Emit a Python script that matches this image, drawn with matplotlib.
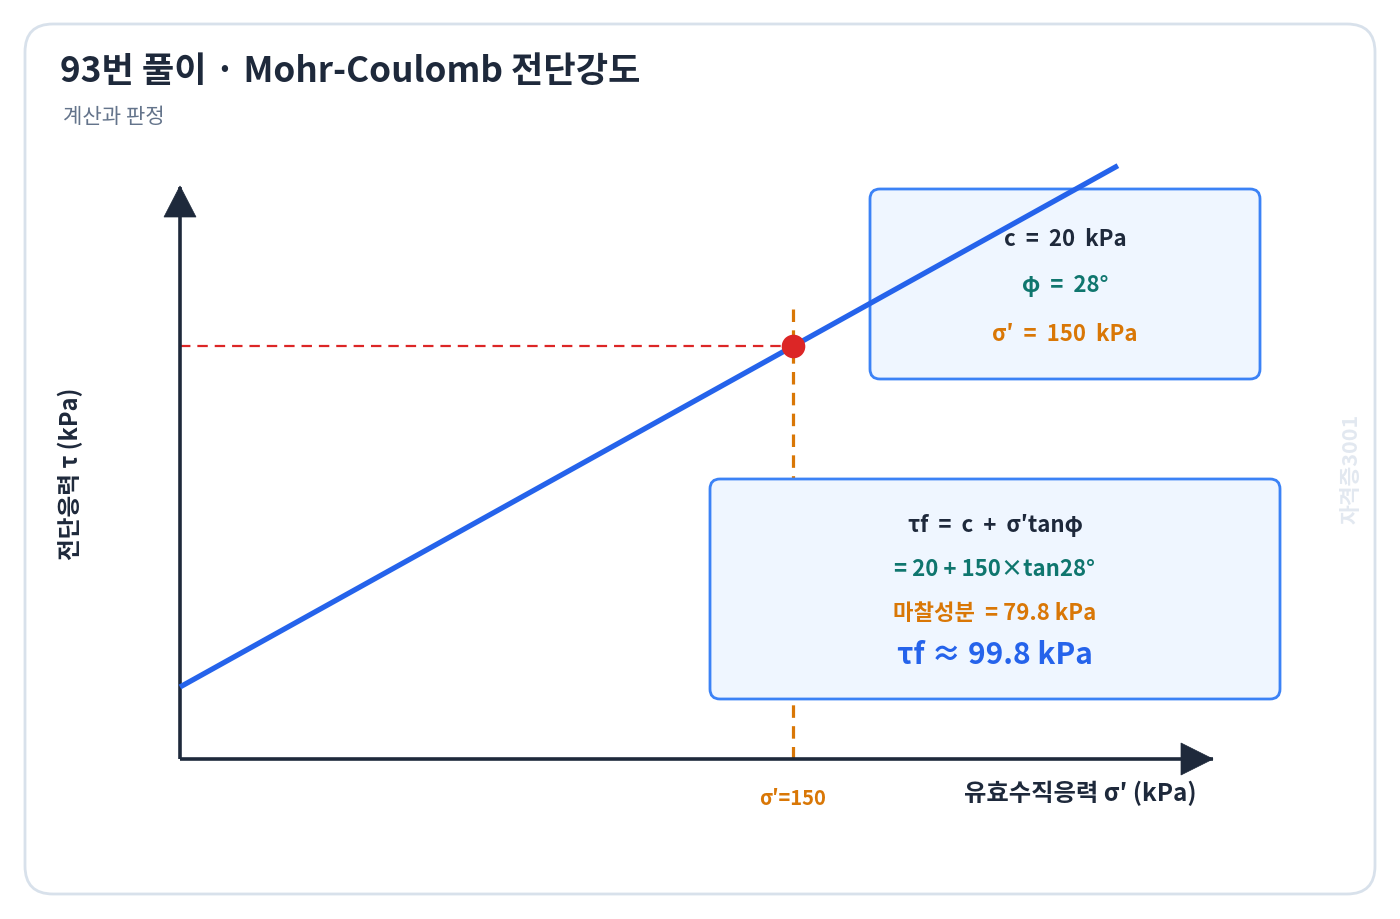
import numpy as np
import matplotlib
matplotlib.use("Agg")
import matplotlib.pyplot as plt
from matplotlib.patches import FancyBboxPatch, Polygon

plt.rcParams['font.family'] = ['Noto Sans CJK KR', 'DejaVu Sans']
plt.rcParams['lines.scale_dashes'] = False

# ---- data ----
c_kpa = 20.0
phi_deg = 28
sigma_point = 150.0
friction_part = 79.8
tau_f = 99.8
sigma_line = [0.0, 229.5]
tau_line = [20.0, 142.0]

title = "93번 풀이 · Mohr-Coulomb 전단강도"
subtitle = "계산과 판정"
xlabel = "유효수직응력 σ′ (kPa)"
ylabel = "전단응력 τ (kPa)"
params_lines = ["c  =  20  kPa", "φ  =  28°", "σ′  =  150  kPa"]
calc_lines = ["τf  =  c  +  σ′tanφ", "= 20 + 150×tan28°", "마찰성분  = 79.8 kPa", "τf ≈ 99.8 kPa"]
sigma_tick = "σ′=150"
watermark = "자격증3001"

DARK = "#1e293b"
TEAL = "#0f766e"
ORANGE = "#d97706"
BLUE = "#2563eb"
RED = "#dc2626"

W, H = 1400, 920
fig = plt.figure(figsize=(14, 9.2), dpi=100)
fig.patch.set_facecolor("white")

# overlay axes in pixel coordinates (y downwards)
bg = fig.add_axes([0, 0, 1, 1], zorder=0)
bg.set_xlim(0, W)
bg.set_ylim(H, 0)
bg.axis("off")

card = FancyBboxPatch((25, 25), 1350, 870, boxstyle="round,pad=0,rounding_size=28",
                      facecolor="white", edgecolor="#d8e1eb", linewidth=2.0)
bg.add_patch(card)

bg.text(60, 82, title, fontsize=25.3, fontweight="bold", color=DARK, va="baseline", ha="left")
bg.text(63, 123, subtitle, fontsize=15.2, color="#64748b", va="baseline", ha="left")
bg.text(1351, 469, watermark, fontsize=15.5, color="#e2e8f0", rotation=90, ha="center", va="center",
        fontweight="bold")

# data axes: origin at pixel (180, 760), arrow tips at x=1213, y=188
x0, y0, x1, y1 = 180, 760, 1213, 188
ax = fig.add_axes([x0 / W, (H - y0) / H, (x1 - x0) / W, (y0 - y1) / H], zorder=1)
px_per_sigma = 613 / 150.0
px_per_tau = 341 / 79.8
ax.set_xlim(0, (x1 - x0) / px_per_sigma)
ax.set_ylim(20 - (y0 - 688) / px_per_tau, 20 + (688 - y1) / px_per_tau)
ax.patch.set_alpha(0)
ax.axis("off")

pix = bg.transData

# axes lines and arrowheads
ax.plot([0, 0], [0, 1], transform=ax.transAxes, color=DARK, lw=2.6, clip_on=False,
        solid_capstyle="butt", zorder=2)
ax.plot([0, 1], [0, 0], transform=ax.transAxes, color=DARK, lw=2.6, clip_on=False,
        solid_capstyle="butt", zorder=2)
ax.add_patch(Polygon([(164, 218), (196, 218), (180, 187)], closed=True, transform=pix,
                     facecolor=DARK, edgecolor=DARK, lw=0.5, clip_on=False, zorder=2))
ax.add_patch(Polygon([(1181, 744), (1181, 776), (1213, 760)], closed=True, transform=pix,
                     facecolor=DARK, edgecolor=DARK, lw=0.5, clip_on=False, zorder=2))

# dashed guides
ymin = ax.get_ylim()[0]
vl, = ax.plot([sigma_point, sigma_point], [ymin, tau_f + 8.7], color=ORANGE, lw=2.3,
              clip_on=False, zorder=1)
vl.set_dashes((9, 6))
hl, = ax.plot([0, sigma_point], [tau_f, tau_f], color=RED, lw=1.6, clip_on=False, zorder=1)
hl.set_dashes((7.5, 5))

# boxes
box_top = FancyBboxPatch((870, 190), 390, 190, boxstyle="round,pad=0,rounding_size=10",
                         facecolor="#eff6ff", edgecolor="#3b82f6", lw=2.0, transform=pix,
                         clip_on=False, zorder=2)
box_bot = FancyBboxPatch((710, 480), 570, 220, boxstyle="round,pad=0,rounding_size=10",
                         facecolor="#eff6ff", edgecolor="#3b82f6", lw=2.0, transform=pix,
                         clip_on=False, zorder=2)
ax.add_patch(box_top)
ax.add_patch(box_bot)

# failure envelope
ax.plot(sigma_line, tau_line, color=BLUE, lw=3.8, clip_on=False, zorder=3,
        solid_capstyle="butt")
ax.plot([sigma_point], [tau_f], "o", color=RED, markersize=17, clip_on=False, zorder=4,
        markeredgewidth=0)

# box texts
tkw = dict(transform=pix, ha="center", va="baseline", fontweight="bold", zorder=5, clip_on=False)
ax.text(1065, 246, params_lines[0], fontsize=16, color=DARK, **tkw)
ax.text(1065, 292, params_lines[1], fontsize=16, color=TEAL, **tkw)
ax.text(1065, 341, params_lines[2], fontsize=16, color=ORANGE, **tkw)

ax.text(995, 532, calc_lines[0], fontsize=16, color=DARK, **tkw)
ax.text(995, 576, calc_lines[1], fontsize=16, color=TEAL, **tkw)
ax.text(995, 620, calc_lines[2], fontsize=16, color=ORANGE, **tkw)
ax.text(995, 664, calc_lines[3], fontsize=21.5, color=BLUE, **tkw)

# axis labels
ax.text(1080, 801, xlabel, fontsize=17.5, color=DARK, **tkw)
ax.text(793, 805, sigma_tick, fontsize=14.5, color=ORANGE, **tkw)
ax.text(70, 474, ylabel, fontsize=17, color=DARK, transform=pix, ha="center", va="center",
        rotation=90, fontweight="bold", zorder=5)

fig.savefig("out.png", dpi=100, facecolor="white")
